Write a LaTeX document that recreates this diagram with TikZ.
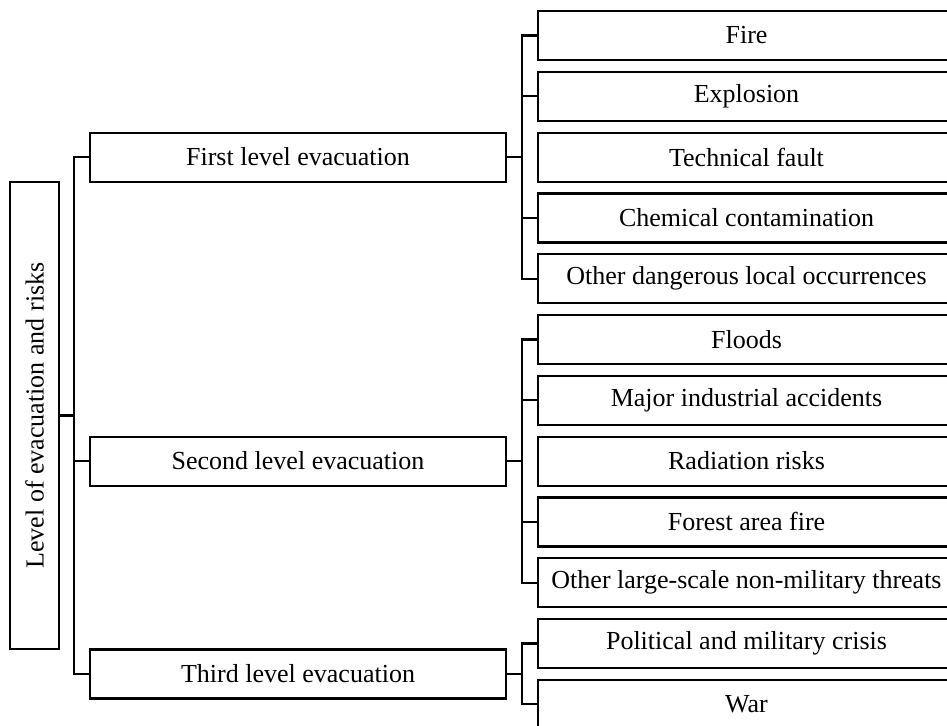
\documentclass[tikz,border=0pt]{standalone}
\usepackage{fontspec}
\setmainfont{Liberation Serif}
\begin{document}
\begin{tikzpicture}[x=1pt,y=-1pt,
  box/.style={draw,line width=2.2pt,inner sep=0pt,minimum height=49pt,font=\fontsize{26}{30}\selectfont},
  lvl/.style={box,minimum width=416pt},
  leaf/.style={box,minimum width=417pt},
  conn/.style={line width=2.2pt,line join=miter}]
\useasboundingbox (0,0) rectangle (947,725);
\node[box,minimum width=49pt,minimum height=467pt] (root) at (34.5,415.5) {};
\node[rotate=90,font=\fontsize{26}{30}\selectfont] (roottxt) at (root.center) {Level of evacuation and risks};
\node[lvl] (L1) at (298,157.1) {First level evacuation};
\node[lvl] (L2) at (298,461.1) {Second level evacuation};
\node[lvl] (L3) at (298,673.9) {Third level evacuation};
\foreach \i/\t in {0/Fire,1/Explosion,2/Technical fault,3/Chemical contamination,4/Other dangerous local occurrences,5/Floods,6/Major industrial accidents,7/Radiation risks,8/Forest area fire,9/Other large-scale non-military threats,10/Political and military crisis,11/War}{
  \node[leaf] (R\i) at (746.5,{35.5+60.8*\i}) {\t};
}
\coordinate (tr) at (74,415.5);
\coordinate (j1) at (522,157.1);
\coordinate (j2) at (522,461.1);
\coordinate (j3) at (522,673.9);
\draw[conn] (root.east) -- (tr);
\draw[conn] (L1.west) -| (tr) |- (L3.west);
\draw[conn] (L2.west) -- (L2.west -| tr);
\draw[conn] (L1.east) -- (j1);
\draw[conn] (R0.west) -| (j1) |- (R4.west);
\foreach \i in {1,3}{\draw[conn] (R\i.west) -- (R\i.west -| j1);}
\draw[conn] (L2.east) -- (j2);
\draw[conn] (R5.west) -| (j2) |- (R9.west);
\foreach \i in {6,8}{\draw[conn] (R\i.west) -- (R\i.west -| j2);}
\draw[conn] (L3.east) -- (j3);
\draw[conn] (R10.west) -| (j3) |- (R11.west);
\end{tikzpicture}
\end{document}
